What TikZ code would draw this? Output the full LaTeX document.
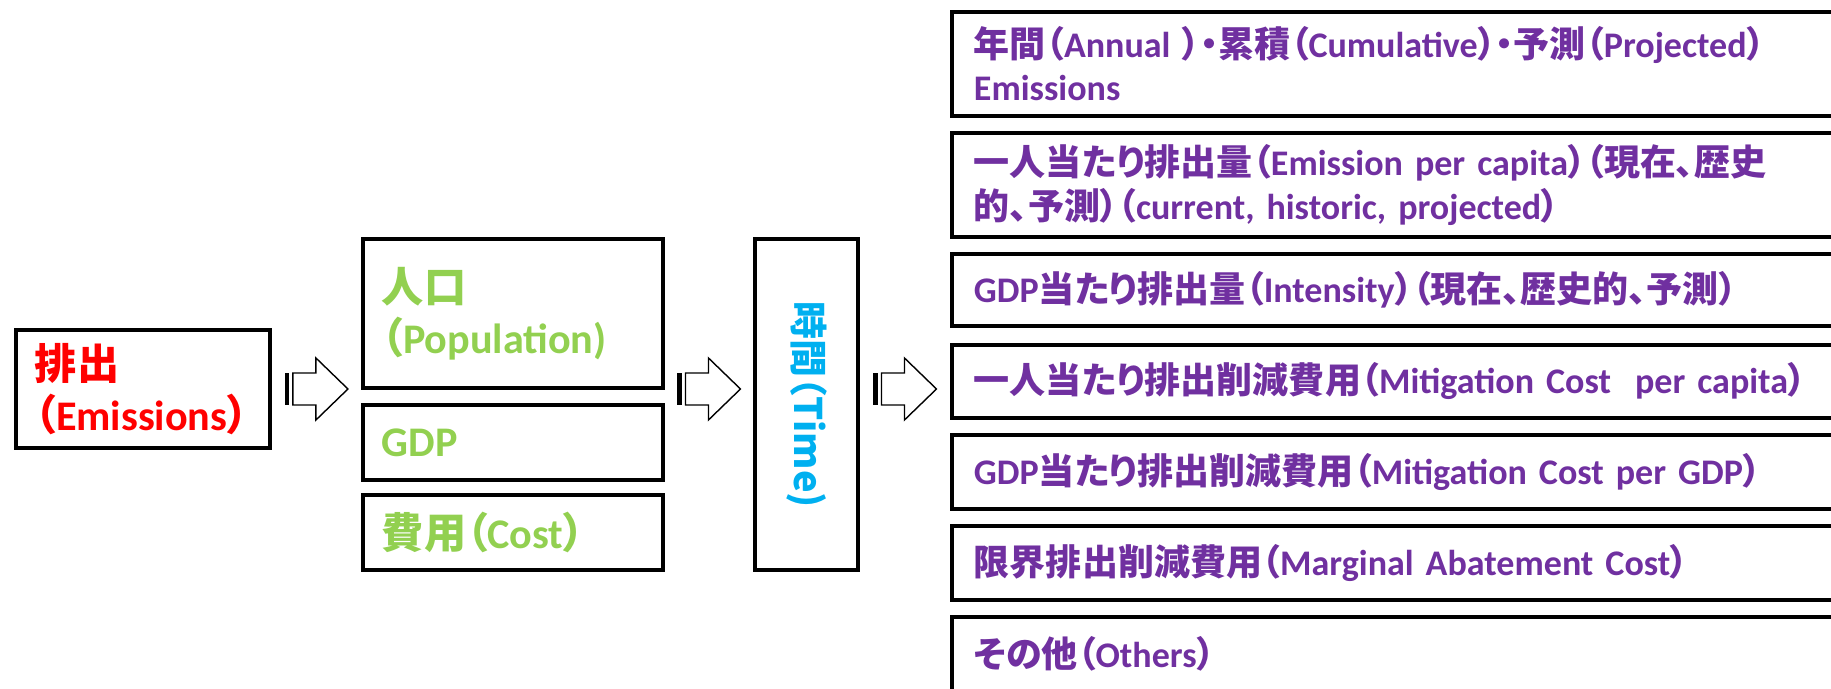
\documentclass[tikz,border=0pt]{standalone}
\usepackage{fontspec}
\setmainfont{Carlito}
\newfontfamily\jpfont{Noto Sans CJK JP}[Scale=1.0,RawFeature=+palt]
\newcommand\jpn[1]{{\jpfont #1}}
\usepackage{graphicx}
\usepackage{tikz}
\usetikzlibrary{calc}
\definecolor{emisred}{HTML}{FF0000}
\definecolor{drivegreen}{HTML}{92D050}
\definecolor{timeblue}{HTML}{00B0F0}
\definecolor{outpurple}{HTML}{7030A0}
\tikzstyle{box} = [rectangle, draw, line width=2.2pt, inner xsep=0.38cm, inner ysep=0pt, align=left, font={\bfseries\fontsize{24}{29}\selectfont}]
\tikzstyle{driver} = [box, text=drivegreen, text width=5.24cm, anchor=west]
\tikzstyle{indicator} = [box, text=outpurple, text width=17.1cm, inner xsep=0.44cm, anchor=west, font={\bfseries\fontsize{20.5}{24.5}\selectfont}]
\tikzset{stripearrow/.pic={
    \fill (-0.63,-0.32) rectangle (-0.54,0.32);
    \draw[line width=0.8pt, fill=white] (-0.47,-0.32) -- (-0.01,-0.32) -- (-0.01,-0.62) -- (0.63,0) -- (-0.01,0.62) -- (-0.01,0.32) -- (-0.47,0.32) -- cycle;
}}

\begin{document}
\begin{tikzpicture}
  \useasboundingbox (0,0) rectangle (36.62,-13.78);
  \clip (0,0) rectangle (36.62,-13.78);
  % Place nodes
  \node [box, text=emisred, text width=4.32cm, minimum height=2.36cm, anchor=west] (emis) at (0.28,-7.78) {\jpn{排出}\\\jpn{（}Emissions\jpn{）}};

  \node [driver, minimum height=2.98cm] (pop) at (7.22,-6.27) {\jpn{人口}\\\jpn{（}Population)};
  \node [driver, minimum height=1.50cm] (gdp) at (7.22,-8.85) {GDP};
  \node [driver, minimum height=1.50cm] (cost) at (7.22,-10.65) {\jpn{費用（}Cost\jpn{）}};

  \node [box, text=timeblue, minimum width=2.06cm, minimum height=6.62cm, inner xsep=0pt, align=center, font={\bfseries\fontsize{21.6}{26}\selectfont}] (time) at (16.13,-8.09) {\rotatebox{-90}{\jpfont 時間（Time)}};

  \node [indicator, minimum height=2.08cm] (annual) at (19.00,-1.28) {\jpn{年間（}Annual \jpn{）・累積（}Cumulative\jpn{）・予測（}Projected\jpn{）}\\Emissions};
  \node [indicator, minimum height=2.08cm] (percap) at (19.00,-3.70) {\jpn{一人当たり排出量（}Emission per capita\jpn{）（現在、歴史}\\\jpn{的、予測）（}current, historic, projected\jpn{）}};
  \node [indicator, minimum height=1.44cm] (intens) at (19.00,-5.80) {GDP\jpn{当たり排出量（}Intensity\jpn{）（現在、歴史的、予測）}};
  \node [indicator, minimum height=1.46cm] (mitcap) at (19.00,-7.63) {\jpn{一人当たり排出削減費用（}Mitigation Cost\ \ per capita\jpn{）}};
  \node [indicator, minimum height=1.48cm] (mitgdp) at (19.00,-9.44) {GDP\jpn{当たり排出削減費用（}Mitigation Cost per GDP\jpn{）}};
  \node [indicator, minimum height=1.48cm] (macc) at (19.00,-11.26) {\jpn{限界排出削減費用（}Marginal Abatement Cost\jpn{）}};
  \node [indicator, minimum height=1.48cm] (others) at (19.00,-13.08) {\jpn{その他（}Others\jpn{）}};

  % Draw arrows
  \pic at ($(emis.east)!0.5!(pop.west |- emis.east)$) {stripearrow};
  \pic at ($(gdp.east |- emis.east)!0.5!(time.west |- emis.east)$) {stripearrow};
  \pic at ($(time.east |- emis.east)!0.5!(mitcap.west |- emis.east)$) {stripearrow};
\end{tikzpicture}
\end{document}
